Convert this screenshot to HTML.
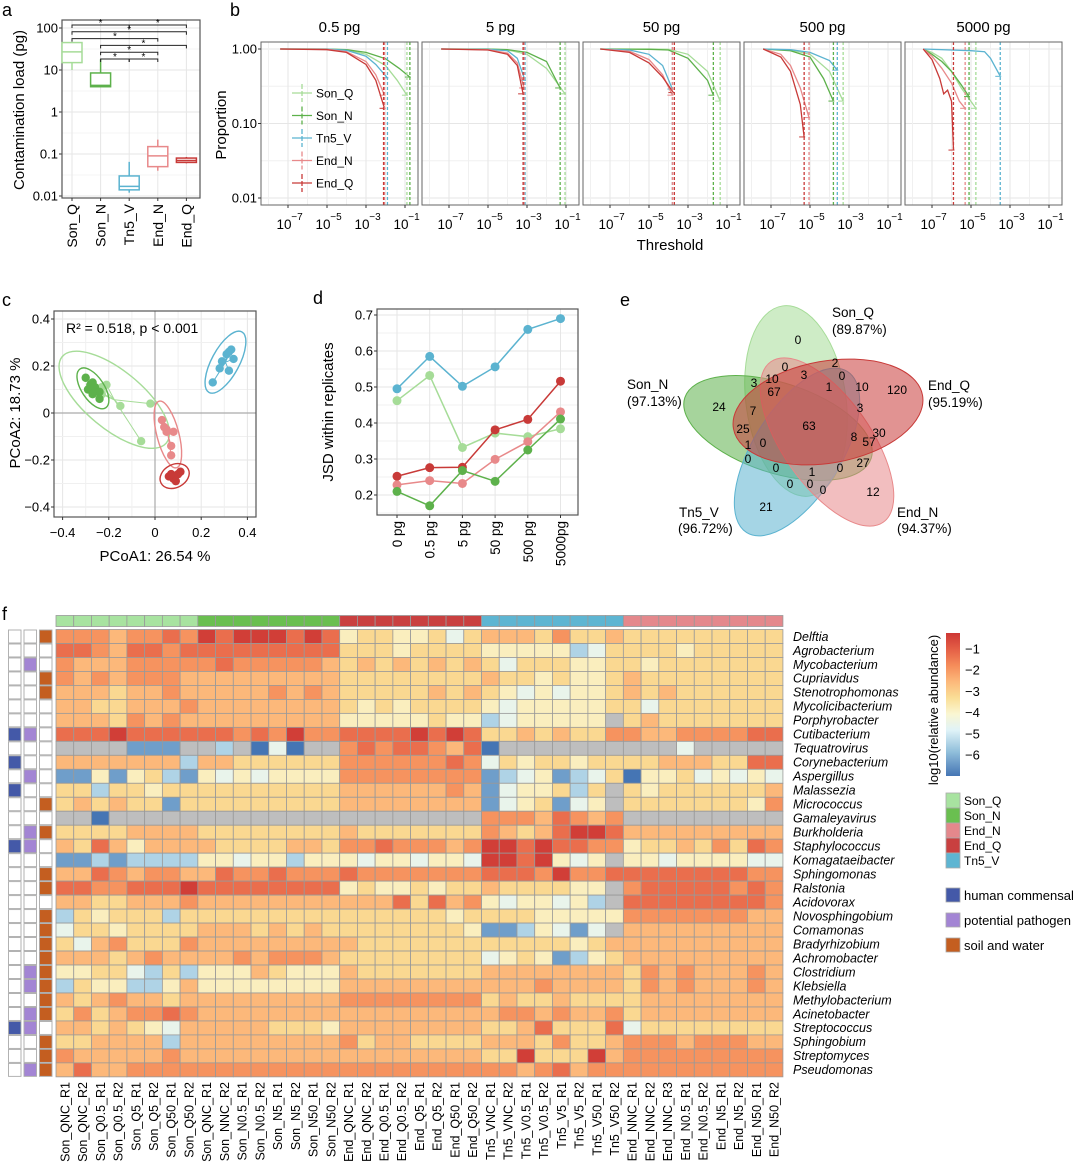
<!DOCTYPE html>
<html><head><meta charset="utf-8">
<style>
html,body{margin:0;padding:0;background:#fff;}
svg{display:block;font-family:"Liberation Sans",Arial,sans-serif;}
</style></head>
<body>
<svg id="fig" xmlns="http://www.w3.org/2000/svg" width="1080" height="1167" viewBox="0 0 1080 1167">
<g font-size="18" fill="#000">
<text x="2" y="16">a</text>
<text x="230" y="16">b</text>
<text x="2" y="306">c</text>
<text x="313" y="304">d</text>
<text x="620" y="306">e</text>
<text x="2" y="620">f</text>
</g>
</svg>
<script>
// ---------- shared data ----------
const groups = ["Son_Q","Son_N","Tn5_V","End_N","End_Q"];
const groupColors = ["#a6dc98","#5db14b","#5bb3d0","#e8898a","#c83a38"];
// panel a box stats [lowWhisker, q1, median, q3, highWhisker] in pg
const boxLow = [10, 3.9, 0.012, 0.04, 0.06];
const boxQ1 = [15, 4.0, 0.014, 0.05, 0.063];
const boxMed = [27, 4.3, 0.017, 0.09, 0.07];
const boxQ3 = [45, 8.5, 0.03, 0.15, 0.08];
const boxHigh = [45, 18, 0.065, 0.22, 0.085];
const aTicks = [100, 10, 1, 0.1, 0.01];
const aTickLabels = ["100","10","1","0.1","0.01"];
// significance brackets: [fromIndex, toIndex, level]
const sigFrom = [0, 2, 0, 0, 1, 1, 1, 2];
const sigTo   = [2, 4, 4, 3, 4, 3, 2, 3];
const sigLevel= [0, 0, 1, 2, 3, 4, 5, 5];

// panel b
const facetNames = ["0.5 pg","5 pg","50 pg","500 pg","5000 pg"];
const curveSonQ = [
 [[-7.4,1],[-5,1],[-4,0.97],[-3,0.85],[-2,0.6],[-1.4,0.38],[-0.9,0.24]],
 [[-7.4,1],[-5,1],[-4,0.97],[-3,0.85],[-2,0.55],[-1.05,0.25]],
 [[-7.5,1],[-5,1],[-4,0.99],[-3,0.85],[-2,0.5],[-1.35,0.2]],
 [[-7.4,1],[-6,0.97],[-5,0.85],[-4,0.5],[-3.3,0.2]],
 [[-7.45,1],[-7,0.9],[-6.5,0.75],[-6,0.5],[-5.5,0.3],[-4.75,0.16]]];
const curveSonN = [
 [[-7.4,1],[-5,1],[-4,0.98],[-3,0.9],[-2,0.74],[-1.3,0.55],[-0.75,0.42]],
 [[-7.4,1],[-5,1],[-4,0.98],[-3,0.9],[-2,0.68],[-1.3,0.3]],
 [[-7.5,1],[-5,0.99],[-4,0.97],[-3,0.75],[-2,0.38],[-1.7,0.24]],
 [[-7.4,1],[-6,0.95],[-5,0.78],[-4.3,0.4],[-3.8,0.2]],
 [[-7.45,1],[-7,0.85],[-6.5,0.68],[-6,0.5],[-5.5,0.33],[-5.1,0.23]]];
const curveTn5 = [
 [[-7.4,1],[-5,1],[-4,0.96],[-3,0.8],[-2.5,0.62],[-1.9,0.41]],
 [[-7.4,1],[-5,0.99],[-4,0.95],[-3.5,0.75],[-3.1,0.38]],
 [[-7.5,1],[-6,0.97],[-5,0.85],[-4.3,0.6],[-3.8,0.29]],
 [[-7.4,1],[-6,0.98],[-5,0.9],[-4,0.7],[-3.6,0.52]],
 [[-7.45,1],[-5,0.95],[-4.3,0.92],[-4,0.75],[-3.5,0.43]]];
const curveEndN = [
 [[-7.4,1],[-5,0.99],[-4,0.92],[-3,0.68],[-2.5,0.45],[-2.05,0.24]],
 [[-7.4,1],[-5,0.98],[-4,0.88],[-3.5,0.65],[-3.15,0.3]],
 [[-7.5,1],[-6,0.93],[-5,0.72],[-4.3,0.45],[-3.8,0.24]],
 [[-7.4,1],[-6.5,0.85],[-6,0.6],[-5.5,0.3],[-5.05,0.12]],
 [[-7.45,1],[-7,0.8],[-6.5,0.55],[-6,0.35],[-5.6,0.2],[-5.3,0.16]]];
const curveEndQ = [
 [[-7.4,1],[-5,0.98],[-4,0.9],[-3,0.62],[-2.5,0.38],[-2.05,0.16]],
 [[-7.4,1],[-5,0.97],[-4,0.85],[-3.5,0.6],[-3.2,0.25]],
 [[-7.5,1],[-6,0.9],[-5,0.65],[-4.3,0.42],[-3.75,0.26]],
 [[-7.4,1],[-6.5,0.78],[-6,0.5],[-5.5,0.18],[-5.3,0.066]],
 [[-7.45,1],[-7,0.72],[-6.6,0.4],[-6.4,0.25],[-6.2,0.28],[-6,0.2],[-5.9,0.044]]];
const vlineSonQ = [-0.9,-1.05,-1.35,-3.3,-4.75];
const vlineSonN = [-0.75,-1.3,-1.7,-3.8,-5.1];
const vlineTn5  = [-1.9,-3.1,-3.8,-3.6,-3.5];
const vlineEndN = [-2.05,-3.15,-3.8,-5.05,-5.3];
const vlineEndQ = [-2.1,-3.2,-3.7,-5.3,-5.9];
const bXTicks = [-7,-5,-3,-1];
const bYTicks = [1, 0.1, 0.01];
const bYTickLabels = ["1.00","0.10","0.01"];

// panel c PCoA points
const pcSonQx = [-0.26,-0.23,-0.21,-0.15,-0.02,-0.06,-0.23,-0.25];
const pcSonQy = [0.10,0.08,0.12,0.03,0.04,-0.12,0.11,0.09];
const pcSonNx = [-0.30,-0.28,-0.27,-0.29,-0.26,-0.24,-0.27,-0.24];
const pcSonNy = [0.15,0.12,0.13,0.10,0.11,0.09,0.08,0.06];
const pcTn5x = [0.25,0.28,0.29,0.31,0.33,0.34,0.32,0.32];
const pcTn5y = [0.13,0.19,0.22,0.25,0.27,0.23,0.18,0.26];
const pcEndNx = [0.03,0.04,0.05,0.08,0.07,0.07,0.05];
const pcEndNy = [-0.03,-0.06,-0.08,-0.08,-0.14,-0.18,-0.07];
const pcEndQx = [0.06,0.08,0.10,0.09,0.07,0.11];
const pcEndQy = [-0.27,-0.28,-0.26,-0.29,-0.26,-0.25];
const cTicks = [-0.4,-0.2,0,0.2,0.4];
const cTickLabels = ["\u22120.4","\u22120.2","0","0.2","0.4"];

// panel d JSD
const dCategories = ["0 pg","0.5 pg","5 pg","50 pg","500 pg","5000pg"];
const jsdSonQ = [0.462,0.532,0.332,0.372,0.362,0.384];
const jsdSonN = [0.210,0.170,0.268,0.238,0.325,0.411];
const jsdTn5  = [0.495,0.585,0.502,0.556,0.660,0.690];
const jsdEndN = [0.228,0.240,0.232,0.299,0.348,0.431];
const jsdEndQ = [0.252,0.276,0.277,0.381,0.410,0.516];
const dTicks = [0.2,0.3,0.4,0.5,0.6,0.7];

// panel f heatmap
const taxa = ["Delftia","Agrobacterium","Mycobacterium","Cupriavidus","Stenotrophomonas","Mycolicibacterium","Porphyrobacter","Cutibacterium","Tequatrovirus","Corynebacterium","Aspergillus","Malassezia","Micrococcus","Gamaleyavirus","Burkholderia","Staphylococcus","Komagataeibacter","Sphingomonas","Ralstonia","Acidovorax","Novosphingobium","Comamonas","Bradyrhizobium","Achromobacter","Clostridium","Klebsiella","Methylobacterium","Acinetobacter","Streptococcus","Sphingobium","Streptomyces","Pseudomonas"];
const samples = ["Son_QNC_R1","Son_QNC_R2","Son_Q0.5_R1","Son_Q0.5_R2","Son_Q5_R1","Son_Q5_R2","Son_Q50_R1","Son_Q50_R2","Son_QNC_R1","Son_NNC_R2","Son_N0.5_R1","Son_N0.5_R2","Son_N5_R1","Son_N5_R2","Son_N50_R1","Son_N50_R2","End_QNC_R1","End_QNC_R2","End_Q0.5_R1","End_Q0.5_R2","End_Q5_R1","End_Q5_R2","End_Q50_R1","End_Q50_R2","Tn5_VNC_R1","Tn5_VNC_R2","Tn5_V0.5_R1","Tn5_V0.5_R2","Tn5_V5_R1","Tn5_V5_R2","Tn5_V50_R1","Tn5_V50_R2","End_NNC_R1","End_NNC_R2","End_NNC_R3","End_N0.5_R1","End_N0.5_R2","End_N5_R1","End_N5_R2","End_N50_R1","End_N50_R2"];
const sampleGroup = "QQQQQQQQNNNNNNNNqqqqqqqqVVVVVVVVnnnnnnnnn";
// abundance level codes per row (0 = ~1e-6.5 ... 9 = ~1e-1.3, g = not detected)
const abundance = [
"77767787 98999898 45544535 66657556 555555555",
"88768878 88888888 55545555 44444235 555455555",
"76667777 78777776 56565656 53555445 545555555",
"76767776 66666666 55555555 65545445 655555555",
"66656676 66667676 55555656 54343445 656555555",
"66556667 66666666 54545555 43444445 535555555",
"66657676 66666666 44444544 2344444g 565555555",
"88898888 88787977 88889898 55656557 766777788",
"gggg111g g2g030gg 78788768 0ggggggg ggg3ggggg",
"66666662 66555555 77777787 35455455 556665588",
"11414521 43434444 77777777 12341235 044534343",
"55255455 55555555 66666676 1344525g 545555556",
"56565515 55555555 66666666 1345134g 555555547",
"gg0ggggg gggggggg gggggggg 77768767 ggggggggg",
"55556666 55555555 65555555 76568998 666666666",
"65864666 65555665 77877767 99898877 455657587",
"11212222 44344244 43443443 9989434g 443444433",
"66876776 68778777 87777777 88879778 888888877",
"88778889 88888888 45445455 6555544g 788888787",
"66556667 66666666 66685867 4344342g 888888887",
"25455525 55555555 55555545 55544444 777777766",
"35545555 66656565 55555554 1124313g 666666666",
"53675557 66666666 65555555 55555456 666666666",
"66656766 66767776 55555555 34541245 666666666",
"44553252 44465444 65555555 66666666 576766676",
"25442246 44444444 66666666 66676666 576766676",
"65676656 66666666 77777777 56556555 566666666",
"57567787 66666666 66666666 67767667 566666666",
"66565436 66665554 66666666 55685558 355555555",
"55666626 66666666 75665555 66657556 777677766",
"76666676 66666666 66666666 55955596 777777777",
"68667777 77777777 77777777 77678677 777777777"];
const levelValues = [-6.5,-6,-5.3,-4.6,-4,-3.5,-3,-2.5,-2,-1.3];
const humanCommensal = [7,9,11,15,28];
const potentialPathogen = [2,7,10,14,15,24,25,27,28,31];
const soilWater = [0,3,4,12,14,17,18,20,21,22,23,24,25,26,27,29,30,31];
const colorbarTicks = [-1,-2,-3,-4,-5,-6];

// venn
const vennNums = ["0","0","2","3","0","10","1","10","120","3","67","24","7","3","63","25","30","8","57","1","0","0","0","1","0","27","0","0","0","12","21"];

// ---------- helpers ----------
const NS = "http://www.w3.org/2000/svg";
const svg = document.getElementById("fig");
function el(tag, attrs, parent, txt){
  const e = document.createElementNS(NS, tag);
  for (const k in attrs) e.setAttribute(k, attrs[k]);
  if (txt !== undefined) e.textContent = txt;
  (parent || svg).appendChild(e);
  return e;
}
function grp(name){ const g = el("g", {});   return g; }
const gridCol = "#e6e6e6";

// ---------- panel a ----------
(function(){
  const g = grp("panel-a-boxplot");
  const L=62,R=200,T=20,B=198;
  const ay = v => 28 + (2 - Math.log10(v)) * 42;
  const ax = i => 72 + i * 28.6;
  el("rect",{x:L,y:T,width:R-L,height:B-T,fill:"#fff"},g);
  for (let d=2; d>=-2; d--){ const ym = 28+(2-d)*42+21; if (ym<B) el("line",{x1:L,x2:R,y1:ym,y2:ym,stroke:"#f0f0f0","stroke-width":0.8},g); }
  aTicks.forEach((v,i)=>{
    el("line",{x1:L,x2:R,y1:ay(v),y2:ay(v),stroke:gridCol,"stroke-width":1},g);
    el("line",{x1:L-3,x2:L,y1:ay(v),y2:ay(v),stroke:"#333"},g);
    const t = el("text",{x:L-4,y:ay(v)+4.5,"text-anchor":"end","font-size":13},g,aTickLabels[i]);
     
  });
  groups.forEach((n,i)=>{ el("line",{x1:ax(i),x2:ax(i),y1:T,y2:B,stroke:gridCol},g); });
  el("rect",{x:L,y:T,width:R-L,height:B-T,fill:"none",stroke:"#555","stroke-width":1.2},g);
  groups.forEach((n,i)=>{
    const x=ax(i), c=groupColors[i], w=10;
    const b = el("g",{},g);
    
    
    el("line",{x1:x,x2:x,y1:ay(boxHigh[i]),y2:ay(boxQ3[i]),stroke:c,"stroke-width":1.5},b);
    el("line",{x1:x,x2:x,y1:ay(boxQ1[i]),y2:ay(boxLow[i]),stroke:c,"stroke-width":1.5},b);
    el("rect",{x:x-w,y:ay(boxQ3[i]),width:2*w,height:ay(boxQ1[i])-ay(boxQ3[i]),fill:"#fff",stroke:c,"stroke-width":1.5},b);
    el("line",{x1:x-w,x2:x+w,y1:ay(boxMed[i]),y2:ay(boxMed[i]),stroke:c,"stroke-width":1.5},b);
    el("line",{x1:x,x2:x,y1:B,y2:B+3,stroke:"#333"},g);
    const t = el("text",{x:0,y:0,"text-anchor":"end","font-size":14,transform:`translate(${x+5},${B+6}) rotate(-90)`},g,n);
     
  });
  sigFrom.forEach((f,k)=>{
    const y = 25 + sigLevel[k]*6.8, x1=ax(f), x2=ax(sigTo[k]);
    el("path",{d:`M${x1},${y+3}V${y}H${x2}V${y+3}`,fill:"none",stroke:"#222","stroke-width":1},g);
    el("text",{x:(x1+x2)/2,y:y+1,"text-anchor":"middle","font-size":10},g,"*");
  });
  const t = el("text",{x:0,y:0,"text-anchor":"middle","font-size":15,transform:"translate(24,110) rotate(-90)"},g,"Contamination load (pg)");
   
})();

// ---------- panel b ----------
(function(){
  const g = grp("panel-b-threshold-curves");
  const lefts=[261,422,583,744,905], W=157, T=42, B=205;
  const by = p => 49 + (-Math.log10(p))*74.5;
  const curves=[curveSonQ,curveSonN,curveTn5,curveEndN,curveEndQ];
  const vlines=[vlineSonQ,vlineSonN,vlineTn5,vlineEndN,vlineEndQ];
  facetNames.forEach((fn,f)=>{
    const L=lefts[f];
    const bx = l => L + 27 + (l+7)*19.5;
    const fg = el("g",{},g);
    
    
    el("rect",{x:L,y:T,width:W,height:B-T,fill:"#fff"},fg);
    [0.316,0.0316].forEach(p=>el("line",{x1:L,x2:L+W,y1:by(p),y2:by(p),stroke:"#f0f0f0"},fg));
    bYTicks.forEach(p=>el("line",{x1:L,x2:L+W,y1:by(p),y2:by(p),stroke:gridCol},fg));
    for(let d=-8; d<=-1; d++){ el("line",{x1:bx(d),x2:bx(d),y1:T,y2:B,stroke: d%2? gridCol:"#f0f0f0"},fg); }
    curves.forEach((c,s)=>{
      const pts=c[f];
      el("path",{d:pts.map((p,i)=>(i?"L":"M")+bx(p[0]).toFixed(1)+","+by(p[1]).toFixed(1)).join(""),fill:"none",stroke:groupColors[s],"stroke-width":1.3},fg);
      const last=pts[pts.length-1];
      el("line",{x1:bx(last[0])-5,x2:bx(last[0])+1,y1:by(last[1]),y2:by(last[1]),stroke:groupColors[s],"stroke-width":1},fg);
    });
    vlines.forEach((v,s)=>{
      el("line",{x1:bx(v[f]),x2:bx(v[f]),y1:T,y2:B,stroke:groupColors[s],"stroke-width":1.3,"stroke-dasharray":"3,2"},fg);
    });
    el("rect",{x:L,y:T,width:W,height:B-T,fill:"none",stroke:"#666","stroke-width":1},fg);
    const tt=el("text",{x:L+W/2,y:32,"text-anchor":"middle","font-size":15},fg,fn);
     
    bXTicks.forEach(d=>{
      el("line",{x1:bx(d),x2:bx(d),y1:B,y2:B+3,stroke:"#333"},fg);
      const t=el("text",{x:bx(d)-4,y:229,"text-anchor":"middle","font-size":13.5},fg,"10");
      el("text",{x:bx(d)+9,y:220,"text-anchor":"middle","font-size":10},fg,"\u2212"+(-d));
    });
  });
  bYTicks.forEach((p,i)=>{
    el("line",{x1:258,x2:261,y1:by(p),y2:by(p),stroke:"#333"},g);
    el("text",{x:257,y:by(p)+4.5,"text-anchor":"end","font-size":13},g,bYTickLabels[i]);
  });
  const yt=el("text",{x:0,y:0,"text-anchor":"middle","font-size":15,transform:"translate(226,125) rotate(-90)"},g,"Proportion");
   
  const xt=el("text",{x:670,y:250,"text-anchor":"middle","font-size":15},g,"Threshold");
   
  groups.forEach((n,i)=>{
    const y=93+i*22.5;
    const le=el("g",{},g);
    
    
    el("line",{x1:292,x2:312,y1:y,y2:y,stroke:groupColors[i],"stroke-width":1.3},le);
    el("line",{x1:302,x2:302,y1:y-9,y2:y+9,stroke:groupColors[i],"stroke-width":1.3,"stroke-dasharray":"5,2"},le);
    el("text",{x:316,y:y+4.5,"font-size":12},le,n);
  });
})();

// ---------- panel c ----------
(function(){
  const g = grp("panel-c-pcoa");
  const L=54,R=256,T=311,B=517;
  const cx = v => 155 + v*231;
  const cy = v => 413 - v*235;
  el("rect",{x:L,y:T,width:R-L,height:B-T,fill:"#fff"},g);
  for(let v=-0.5; v<=0.51; v+=0.1){ const vv=Math.round(v*10)/10;
    if(cx(vv)>L&&cx(vv)<R) el("line",{x1:cx(vv),x2:cx(vv),y1:T,y2:B,stroke:Math.round(vv*10)%2?"#f0f0f0":gridCol},g);
    if(cy(vv)>T&&cy(vv)<B) el("line",{x1:L,x2:R,y1:cy(vv),y2:cy(vv),stroke:Math.round(vv*10)%2?"#f0f0f0":gridCol},g);
  }
  el("line",{x1:cx(0),x2:cx(0),y1:T,y2:B,stroke:"#aaa","stroke-width":1.2},g);
  el("line",{x1:L,x2:R,y1:cy(0),y2:cy(0),stroke:"#aaa","stroke-width":1.2},g);
  const sets=[[pcSonQx,pcSonQy],[pcSonNx,pcSonNy],[pcTn5x,pcTn5y],[pcEndNx,pcEndNy],[pcEndQx,pcEndQy]];
  const order=[0,1,3,4,2];
  order.forEach(s=>{
    const xs=sets[s][0], ys=sets[s][1], col=groupColors[s];
    const mx=xs.reduce((a,b)=>a+b,0)/xs.length, my=ys.reduce((a,b)=>a+b,0)/ys.length;
    const sg=el("g",{},g);
    
    
    // covariance ellipse
    let sxx=0,syy=0,sxy=0;
    xs.forEach((x,i)=>{const dx=cx(x)-cx(mx), dy=cy(ys[i])-cy(my); sxx+=dx*dx; syy+=dy*dy; sxy+=dx*dy;});
    sxx/=xs.length-1; syy/=xs.length-1; sxy/=xs.length-1;
    const tr=sxx+syy, det=sxx*syy-sxy*sxy, l1=tr/2+Math.sqrt(tr*tr/4-det), l2=tr/2-Math.sqrt(Math.max(tr*tr/4-det,0));
    const ang=Math.atan2(l1-sxx, sxy||1e-9)*180/Math.PI;
    const k=2.45;
    el("ellipse",{cx:cx(mx),cy:cy(my),rx:k*Math.sqrt(l1)+4,ry:k*Math.sqrt(Math.max(l2,1))+4,transform:`rotate(${ang} ${cx(mx)} ${cy(my)})`,fill:"none",stroke:col,"stroke-width":1.4},sg);
    xs.forEach((x,i)=>el("line",{x1:cx(mx),y1:cy(my),x2:cx(x),y2:cy(ys[i]),stroke:col,"stroke-width":1},sg));
    xs.forEach((x,i)=>{
      const p=el("circle",{cx:cx(x),cy:cy(ys[i]),r:4.2,fill:col},sg);
       
    });
  });
  el("rect",{x:L,y:T,width:R-L,height:B-T,fill:"none",stroke:"#555","stroke-width":1.2},g);
  cTicks.forEach((v,i)=>{
    el("line",{x1:cx(v),x2:cx(v),y1:B,y2:B+3,stroke:"#333"},g);
    el("text",{x:cx(v),y:537,"text-anchor":"middle","font-size":13},g,cTickLabels[i]);
    el("line",{x1:L-3,x2:L,y1:cy(v),y2:cy(v),stroke:"#333"},g);
    el("text",{x:50,y:cy(v)+4.5,"text-anchor":"end","font-size":13},g,cTickLabels[i]);
  });
  el("text",{x:66,y:333,"font-size":14},g,"R\u00b2 = 0.518, p < 0.001");
  const xt=el("text",{x:155,y:561,"text-anchor":"middle","font-size":15},g,"PCoA1: 26.54 %");
   
  const yt=el("text",{x:0,y:0,"text-anchor":"middle","font-size":15,transform:"translate(20,413) rotate(-90)"},g,"PCoA2: 18.73 %");
   
})();

// ---------- panel d ----------
(function(){
  const g = grp("panel-d-jsd");
  const L=377,R=578,T=309,B=515;
  const dx = i => 397 + i*32.7;
  const dy = v => 315 + (0.7-v)*360;
  el("rect",{x:L,y:T,width:R-L,height:B-T,fill:"#fff"},g);
  dTicks.forEach(v=>{ el("line",{x1:L,x2:R,y1:dy(v),y2:dy(v),stroke:gridCol},g); el("line",{x1:L,x2:R,y1:dy(v-0.05),y2:dy(v-0.05),stroke:"#f0f0f0"},g); });
  dCategories.forEach((c,i)=>el("line",{x1:dx(i),x2:dx(i),y1:T,y2:B,stroke:gridCol},g));
  const series=[jsdSonQ,jsdTn5,jsdEndQ,jsdEndN,jsdSonN], cols=[groupColors[0],groupColors[2],groupColors[4],groupColors[3],groupColors[1]];
  const names=["son-q","tn5-v","end-q","end-n","son-n"];
  series.forEach((s,k)=>{
    const sg=el("g",{},g);
    
    
    el("path",{d:s.map((v,i)=>(i?"L":"M")+dx(i)+","+dy(v)).join(""),fill:"none",stroke:cols[k],"stroke-width":1.5},sg);
    s.forEach((v,i)=>{ const p=el("circle",{cx:dx(i),cy:dy(v),r:4.5,fill:cols[k]},sg);
        });
  });
  el("rect",{x:L,y:T,width:R-L,height:B-T,fill:"none",stroke:"#555","stroke-width":1.2},g);
  dTicks.forEach(v=>{ el("line",{x1:L-3,x2:L,y1:dy(v),y2:dy(v),stroke:"#333"},g);
    el("text",{x:373,y:dy(v)+4.5,"text-anchor":"end","font-size":13},g,v.toFixed(1)); });
  dCategories.forEach((c,i)=>{ el("line",{x1:dx(i),x2:dx(i),y1:B,y2:B+3,stroke:"#333"},g);
    el("text",{x:0,y:0,"text-anchor":"end","font-size":13.5,transform:`translate(${dx(i)+5},${B+6}) rotate(-90)`},g,c); });
  const yt=el("text",{x:0,y:0,"text-anchor":"middle","font-size":15,transform:"translate(333,412) rotate(-90)"},g,"JSD within replicates");
   
})();

// ---------- panel e venn ----------
(function(){
  const g = grp("panel-e-venn");
  const ells=[
    {c:"#a6dc98",cx:796,cy:401,rx:50,ry:96,r:-8,n:"son-q"},
    {c:"#5db14b",cx:778,cy:428,rx:98,ry:45,r:18,n:"son-n"},
    {c:"#5bb3d0",cx:797,cy:452,rx:95,ry:44,r:-58,n:"tn5-v"},
    {c:"#e8898a",cx:827,cy:442,rx:98,ry:44,r:55,n:"end-n"},
    {c:"#c83a38",cx:828,cy:412,rx:96,ry:51,r:-10,n:"end-q"}];
  ells.forEach(e=>{
    const p=el("ellipse",{cx:e.cx,cy:e.cy,rx:e.rx,ry:e.ry,transform:`rotate(${e.r} ${e.cx} ${e.cy})`,fill:e.c,"fill-opacity":0.55,stroke:e.c,"stroke-width":1},g);
     
  });
  const pos=[[798,340],[785,367],[835,363],[804,375],[842,376],[772,379],[829,387],[862,387],[897,390],[754,383],[774,392],[719,407],[753,411],[860,408],[809,426],[743,429],[879,433],[854,437],[869,442],[748,445],[763,443],[748,459],[776,468],[812,472],[840,468],[863,463],[790,484],[810,484],[823,490],[873,492],[766,507]];
  vennNums.forEach((n,i)=>{ const t=el("text",{x:pos[i][0],y:pos[i][1]+4,"text-anchor":"middle","font-size":12},g,n);
      });
  const labs=[["Son_Q",832,317],["(89.87%)",832,334],["Son_N",627,389],["(97.13%)",627,406],["End_Q",928,390],["(95.19%)",928,407],["Tn5_V",679,517],["(96.72%)",678,533],["End_N",897,517],["(94.37%)",897,533]];
  labs.forEach(l=>{ const t=el("text",{x:l[1],y:l[2],"font-size":13.5},g,l[0]);
      });
})();

// ---------- panel f heatmap ----------
(function(){
  const g = grp("panel-f-heatmap");
  const L=56, T=629.5, cw=17.73, ch=13.98;
  const hx = j => L + j*cw;
  const hy = r => T + r*ch;
  const gc = {Q:"#a8e3a0",N:"#6abf50",q:"#c94040",V:"#5eb5d2",n:"#e4888c"};
  const stops=[[-6.5,[69,117,180]],[-5.6,[145,191,219]],[-4.8,[224,243,248]],[-4.2,[250,246,210]],[-3.6,[250,222,150]],[-3,[252,184,122]],[-2.4,[245,140,90]],[-1.8,[228,95,70]],[-1.2,[205,55,52]]];
  function colorFor(v){
    if (v<=stops[0][0]) return "rgb("+stops[0][1]+")";
    for(let i=1;i<stops.length;i++){ if(v<=stops[i][0]){ const a=stops[i-1],b=stops[i],t=(v-a[0])/(b[0]-a[0]);
      return "rgb("+a[1].map((c,k)=>Math.round(c+(b[1][k]-c)*t)).join(",")+")"; } }
    return "rgb("+stops[stops.length-1][1]+")";
  }
  // top group bar
  for(let j=0;j<samples.length;j++){
    const r=el("rect",{x:hx(j),y:615.5,width:cw,height:11,fill:gc[sampleGroup[j]],stroke:"#999","stroke-width":0.8},g);
     
  }
  abundance.forEach((row,r)=>{
    const codes=row.replace(/ /g,"");
    for(let j=0;j<codes.length;j++){
      const c=codes[j];
      const fill = c==="g" ? "#bebebe" : colorFor(levelValues[+c]);
      const cell=el("rect",{x:hx(j),y:hy(r),width:cw,height:ch,fill:fill,stroke:"#999","stroke-width":0.8},g);
      
      
    }
    const t=el("text",{x:793,y:hy(r)+ch/2+4.3,"font-size":12.5,"font-style":"italic"},g,taxa[r]);
     
    // left annotation
    const ann=[[humanCommensal,"#4459a8",8.5],[potentialPathogen,"#a385d4",24],[soilWater,"#c45e20",39.5]];
    ann.forEach(a=>{ const on=a[0].includes(r);
      const rr=el("rect",{x:a[2],y:hy(r)+0.5,width:12.5,height:ch-1,fill:on?a[1]:"#fff",stroke:"#aaa","stroke-width":0.9},g);
        });
  });
  samples.forEach((s,j)=>{
    const t=el("text",{x:0,y:0,"text-anchor":"end","font-size":12.5,transform:`translate(${hx(j)+cw/2+4.5},${1082}) rotate(-90)`},g,s);
     
  });
  // colorbar
  const defs=el("defs",{},g);
  const lg=el("linearGradient",{id:"cbar",x1:0,y1:0,x2:0,y2:1},defs);
  for(let i=stops.length-1;i>=0;i--){ el("stop",{offset:((-1.2-stops[i][0])/5.3*100).toFixed(1)+"%","stop-color":"rgb("+stops[i][1]+")"},lg); }
  const cb=el("rect",{x:946,y:633,width:14,height:143,fill:"url(#cbar)"},g);
   
  colorbarTicks.forEach(v=>{ el("text",{x:965,y:649+(-1-v)*21.2+4.5,"font-size":13},g,"\u2212"+(-v)); });
  const ct=el("text",{x:0,y:0,"text-anchor":"middle","font-size":13,transform:"translate(938,710) rotate(-90)"},g,"log10(relative abundance)");
   
  const lgroups=[["Son_Q","#a8e3a0"],["Son_N","#6abf50"],["End_N","#e4888c"],["End_Q","#c94040"],["Tn5_V","#5eb5d2"]];
  lgroups.forEach((l,i)=>{ const e=el("g",{},g);
     
    el("rect",{x:946,y:793+i*15,width:14,height:15,fill:l[1],stroke:"#aaa","stroke-width":0.8},e);
    el("text",{x:964,y:805+i*15,"font-size":12},e,l[0]); });
  const lcat=[["human commensal","#4459a8"],["potential pathogen","#a385d4"],["soil and water","#c45e20"]];
  lcat.forEach((l,i)=>{ const e=el("g",{},g);
     
    el("rect",{x:946,y:888+i*25,width:14,height:14,fill:l[1],stroke:"#aaa","stroke-width":0.8},e);
    el("text",{x:964,y:900+i*25,"font-size":13},e,l[0]); });
})();
</script>
</body></html>
